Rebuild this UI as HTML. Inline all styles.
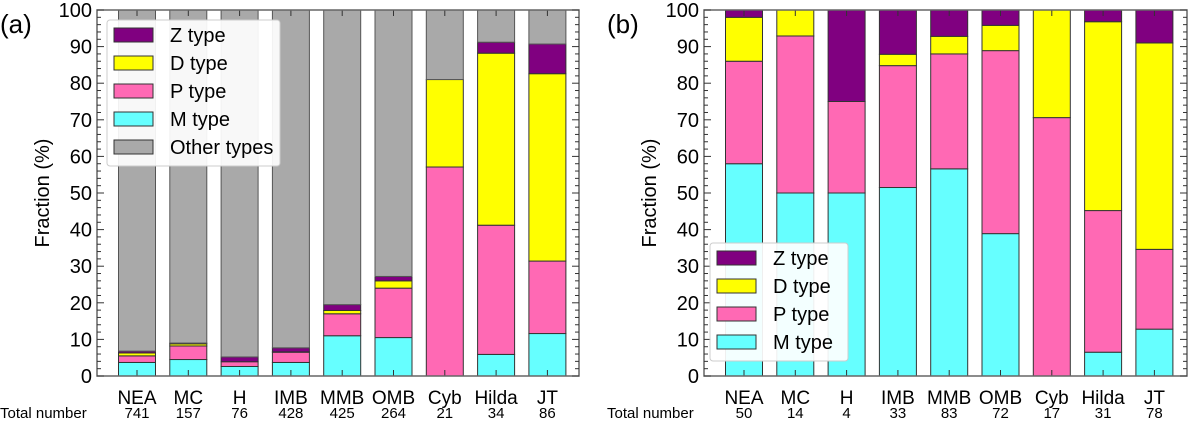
<!DOCTYPE html>
<html><head><meta charset="utf-8"><style>
body{margin:0;background:#fff;width:1200px;height:420px;overflow:hidden}
svg{font-family:"Liberation Sans",sans-serif}
</style></head><body>
<svg id="c" width="1200" height="420"></svg>
<script>
const categories=["NEA","MC","H","IMB","MMB","OMB","Cyb","Hilda","JT"];
const totalsA=[741,157,76,428,425,264,21,34,86];
const totalsB=[50,14,4,33,83,72,17,31,78];
// panel a fractions (%)
const aM=[3.7,4.5,2.6,3.7,11,10.5,0,5.9,11.6];
const aP=[1.8,3.7,1.3,2.8,6,13.5,57.1,35.3,19.8];
const aD=[0.8,0.6,0,0.1,0.9,2,23.9,47,51.2];
const aZ=[0.5,0.2,1.3,1.1,1.6,1.2,0,3,8.1];
// panel b fractions (%)
const bM=[58,50,50,51.5,56.6,38.9,0,6.5,12.8];
const bP=[28,42.9,25,33.3,31.4,50,70.6,38.7,21.8];
const bD=[12,7.1,0,3.1,4.8,6.9,29.4,51.6,56.4];
const bZ=[2,0,25,12.1,7.2,4.2,0,3.2,9];
const yTicks=[0,10,20,30,40,50,60,70,80,90,100];
const colors={M:"#66ffff",P:"#ff69b4",D:"#ffff00",Z:"#800080",O:"#a9a9a9"};
const NS="http://www.w3.org/2000/svg";
const svg=document.getElementById('c');
function mk(t,a,p){const e=document.createElementNS(NS,t);for(const k in a)e.setAttribute(k,a[k]);(p||svg).appendChild(e);return e;}
const plotTop=10,plotBot=376;
const y=v=>plotBot-(plotBot-plotTop)*v/100;
function panel(left,right,series,names,totals,label,withOther){
  const g=mk('g',{});
  
  
  const x=i=>left+40+i*51.3;
  categories.forEach((c,i)=>{
    let acc=0;
    series.forEach((s,k)=>{
      const v=s[i];
      if(v>0){const r=mk('rect',{x:x(i)-18.5,y:y(acc+v),width:37,height:y(acc)-y(acc+v),fill:colors[names[k]],stroke:'#333','stroke-width':1},g);
      
      }
      acc+=v;
    });
    if(withOther&&acc<100){const r=mk('rect',{x:x(i)-18.5,y:y(100),width:37,height:y(acc)-y(100),fill:colors.O,stroke:'#555','stroke-width':1},g);
      
      }
    const t=mk('text',{x:x(i),y:404,'font-size':19,'text-anchor':'middle'},g);t.textContent=c;
    
    
    const n=mk('text',{x:x(i),y:418,'font-size':15,'text-anchor':'middle'},g);n.textContent=totals[i];
    
    
    mk('line',{x1:x(i),x2:x(i),y1:plotBot,y2:plotBot-6,stroke:'#333'},g);
    mk('line',{x1:x(i),x2:x(i),y1:plotTop,y2:plotTop+6,stroke:'#333'},g);
  });
  mk('rect',{x:left,y:plotTop,width:right-left,height:plotBot-plotTop,fill:'none',stroke:'#666','stroke-width':1.5},g);
  for(let v=0;v<=100;v+=2){const l=v%10==0?7:4;
    mk('line',{x1:left,x2:left+l,y1:y(v),y2:y(v),stroke:'#333'},g);
    mk('line',{x1:right,x2:right-l,y1:y(v),y2:y(v),stroke:'#333'},g);}
  yTicks.forEach(v=>{const t=mk('text',{x:left-5,y:y(v)+7,'font-size':20,'text-anchor':'end'},g);t.textContent=v;
    
    });
  const yl=mk('text',{x:0,y:0,'font-size':20,'text-anchor':'middle',transform:`translate(${left-48},${(plotTop+plotBot)/2}) rotate(-90)`},g);yl.textContent='Fraction (%)';
  
  
  const pl=mk('text',{x:left-97,y:33,'font-size':26},g);pl.textContent='('+label+')';
  
  
  const tn=mk('text',{x:left-97,y:418,'font-size':15},g);tn.textContent='Total number';
  
  
}
panel(97,579,[aM,aP,aD,aZ],['M','P','D','Z'],totalsA,'a',true);
panel(704,1187,[bM,bP,bD,bZ],['M','P','D','Z'],totalsB,'b',false);
function legend(x0,y0,w,items){
  const g=mk('g',{});
  
  
  mk('rect',{x:x0,y:y0,width:w,height:items.length*28+6,rx:3,fill:'rgba(255,255,255,0.92)',stroke:'#ccc'},g);
  items.forEach((it,i)=>{
    const cy=y0+15+i*28;
    mk('rect',{x:x0+7,y:cy-7,width:39,height:14,fill:colors[it[0]],stroke:'#333'},g);
    const t=mk('text',{x:x0+63,y:cy+7,'font-size':20},g);t.textContent=it[1];
    
    
  });
}
legend(107,20,173,[['Z','Z type'],['D','D type'],['P','P type'],['M','M type'],['O','Other types']]);
legend(710,243,138,[['Z','Z type'],['D','D type'],['P','P type'],['M','M type']]);
</script>
</body></html>
